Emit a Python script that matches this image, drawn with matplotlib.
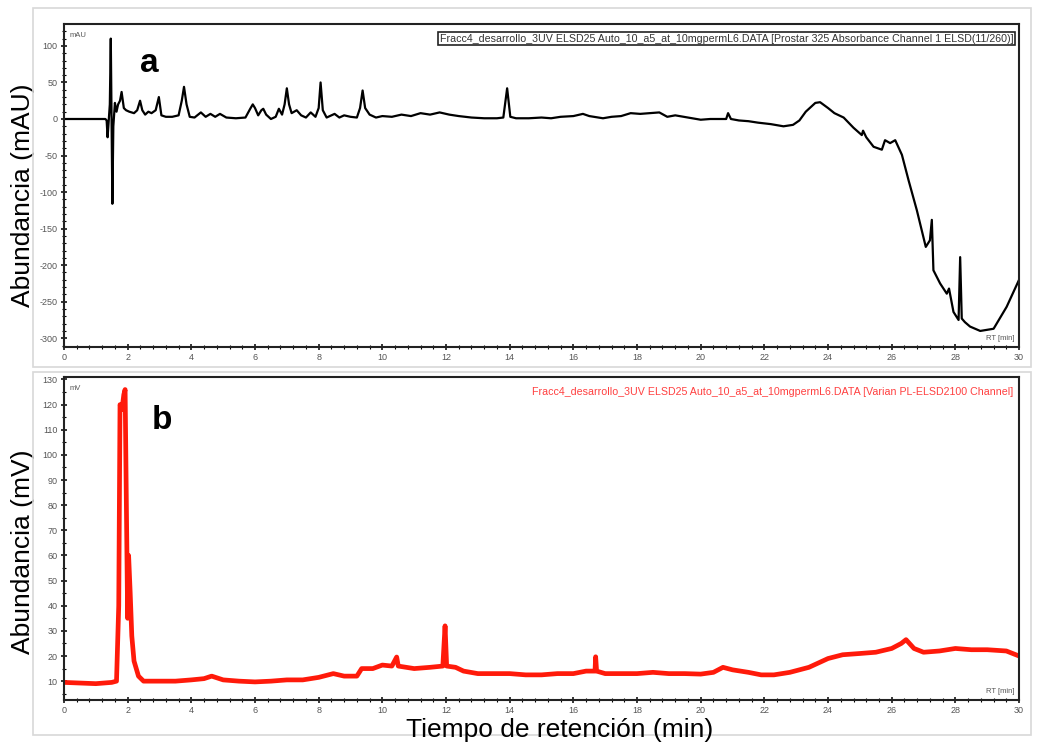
import numpy as np
import matplotlib.pyplot as plt
from matplotlib.patches import Rectangle

plt.rcParams['font.family'] = ['Liberation Sans', 'DejaVu Sans']
plt.rcParams['axes.unicode_minus'] = False

# panel a: UV absorbance (mAU) vs retention time (min)
t_a = [0, 1.30, 1.34, 1.37, 1.40, 1.44, 1.47, 1.50, 1.52, 1.55,
       1.60, 1.65, 1.70, 1.76, 1.81, 1.88, 1.95, 2.05, 2.20, 2.30,
       2.39, 2.46, 2.55, 2.65, 2.75, 2.88, 2.98, 3.06, 3.20, 3.40,
       3.60, 3.70, 3.77, 3.85, 3.95, 4.10, 4.30, 4.45, 4.60, 4.75,
       4.90, 5.10, 5.40, 5.70, 5.85, 5.93, 6.00, 6.10, 6.20, 6.26,
       6.35, 6.50, 6.65, 6.75, 6.85, 6.93, 7.00, 7.07, 7.15, 7.31,
       7.45, 7.60, 7.75, 7.90, 8.00, 8.06, 8.13, 8.25, 8.50, 8.65,
       8.80, 9.00, 9.20, 9.30, 9.38, 9.46, 9.60, 9.80, 10.0, 10.3,
       10.6, 10.9, 11.2, 11.5, 11.8, 12.1, 12.4, 12.8, 13.2, 13.6,
       13.8, 13.92, 14.02, 14.2, 14.6, 15.0, 15.3, 15.6, 16.0, 16.3,
       16.5, 16.93, 17.2, 17.5, 17.8, 18.1, 18.4, 18.7, 18.95, 19.2,
       19.6, 20.0, 20.3, 20.8, 20.86, 20.95, 21.2, 21.5, 21.8, 22.2,
       22.6, 22.9, 23.1, 23.3, 23.6, 23.75, 24.0, 24.2, 24.49, 24.8,
       25.06, 25.1, 25.2, 25.43, 25.69, 25.79, 25.95, 26.11, 26.32, 26.53,
       26.79, 27.07, 27.2, 27.26, 27.31, 27.52, 27.73, 27.8, 27.94, 28.1,
       28.15, 28.2, 28.3, 28.46, 28.78, 29.2, 29.61, 30.0]
mau = [0, 0, -2, -25, -5, 20, 110, -20, -116, -10,
       22, 10, 20, 25, 37, 15, 12, 10, 8, 12,
       25, 12, 6, 10, 8, 12, 30, 5, 3, 3,
       5, 25, 44, 20, 3, 2, 9, 3, 7, 3,
       7, 2, 1, 2, 14, 20, 15, 5, 12, 14,
       6, 0, 3, 14, 6, 20, 42, 20, 8, 12,
       5, 2, 9, 3, 15, 50, 12, 2, 7, 2,
       5, 3, 2, 15, 39, 15, 6, 2, 4, 3,
       6, 4, 8, 6, 9, 6, 4, 2, 1, 1,
       2, 42, 3, 1, 1, 2, 1, 3, 4, 7,
       4, 1, 3, 4, 8, 7, 8, 9, 3, 5,
       2, -1, 0, 0, 8, 0, -2, -3, -5, -7,
       -10, -8, -2, 10, 22, 23, 15, 8, 2, -12,
       -22, -16, -25, -38, -42, -29, -33, -29, -49, -84,
       -125, -175, -166, -138, -207, -225, -239, -232, -264, -275,
       -189, -273, -278, -284, -290, -287, -257, -220]

# panel b: ELSD signal (mV) vs retention time (min)
t_b = [0, 1.0, 1.5, 1.65, 1.72, 1.76, 1.82, 1.88, 1.92, 1.96,
       2.00, 2.03, 2.08, 2.13, 2.20, 2.34, 2.5, 3.0, 3.5, 4.0,
       4.4, 4.64, 5.0, 5.5, 6.0, 6.5, 7.0, 7.5, 8.0, 8.46,
       8.8, 9.2, 9.35, 9.7, 10.0, 10.3, 10.45, 10.5, 11.0, 11.5,
       11.9, 11.97, 12.02, 12.3, 12.55, 13.0, 13.5, 14.0, 14.5, 15.0,
       15.5, 16.0, 16.4, 16.68, 16.7, 16.73, 17.0, 17.5, 18.0, 18.5,
       19.0, 19.5, 20.0, 20.4, 20.7, 21.0, 21.5, 21.9, 22.3, 22.8,
       23.4, 24.0, 24.46, 25.0, 25.5, 26.0, 26.3, 26.45, 26.7, 27.0,
       27.5, 28.0, 28.5, 29.0, 29.6, 30.0]
mv = [9.5, 9, 9.5, 10, 40, 120, 118, 124, 126, 80,
      35, 60, 45, 28, 18, 12, 10, 10, 10, 10.5,
      11, 12, 10.5, 10, 9.7, 10, 10.5, 10.5, 11.5, 13,
      12, 12, 15, 15, 16.4, 16, 19.6, 16, 15, 15.5,
      16, 32, 16, 15.5, 14, 13, 13, 13, 12.5, 12.5,
      13, 13, 14, 14, 19.7, 14, 13, 13, 13, 13.5,
      13, 13, 12.8, 13.5, 15.5, 14.5, 13.5, 12.5, 12.5, 13.5,
      15.5, 19, 20.5, 21, 21.5, 23, 25, 26.5, 23, 21.5,
      22, 23, 22.5, 22.5, 22, 20]

x_ticks = np.arange(0, 31, 2)
a_ticks = np.arange(-300, 101, 50)
b_ticks = np.arange(10, 131, 10)

fig = plt.figure(figsize=(10.37, 7.45), dpi=100)

# light grey frames around the two instrument panels
for y0, h in [(0.507, 0.482), (0.013, 0.488)]:
    fig.patches.append(Rectangle((0.032, y0), 0.962, h, transform=fig.transFigure,
                                 fill=False, edgecolor='#d8d8d8', lw=1.2))

ax1 = fig.add_axes([0.0617, 0.5342, 0.921, 0.4336])
ax2 = fig.add_axes([0.0617, 0.0604, 0.921, 0.4336])

ax1.plot(t_a, mau, color='black', lw=1.6)
ax2.plot(t_b, mv, color='#ff1a0a', lw=3.4, solid_joinstyle='round')

ax1.set_ylim(-312, 130)
ax2.set_ylim(2.5, 131)
ax1.set_yticks(a_ticks)
ax2.set_yticks(b_ticks)
ax1.set_yticks(np.arange(-310, 130, 10), minor=True)
ax2.set_yticks(np.arange(5, 131, 5), minor=True)

for ax in (ax1, ax2):
    ax.set_xlim(0, 30)
    ax.set_xticks(x_ticks)
    ax.set_xticks(np.arange(0, 30.01, 0.4), minor=True)
    ax.tick_params(which='major', direction='inout', length=5, width=1.1,
                   labelsize=6.5, labelcolor='#555555', pad=2)
    ax.tick_params(which='minor', direction='inout', length=3, width=0.8)
    for s in ax.spines.values():
        s.set_linewidth(1.5)
        s.set_color('#222222')
    ax.text(0.995, 0.015, 'RT [min]', transform=ax.transAxes, ha='right',
            va='bottom', fontsize=5.5, color='#555555')

ax1.text(0.006, 0.975, 'mAU', transform=ax1.transAxes, fontsize=5.5,
         color='#555555', va='top')
ax2.text(0.006, 0.975, 'mV', transform=ax2.transAxes, fontsize=5.5,
         color='#555555', va='top')

ax1.text(0.994, 0.955,
         'Fracc4_desarrollo_3UV ELSD25 Auto_10_a5_at_10mgpermL6.DATA '
         '[Prostar 325 Absorbance Channel 1 ELSD(11/260)]',
         transform=ax1.transAxes, ha='right', va='center', fontsize=7.7,
         color='#333333',
         bbox=dict(boxstyle='square,pad=0.15', fc='white', ec='#222222', lw=1.2))
ax2.text(0.994, 0.955,
         'Fracc4_desarrollo_3UV ELSD25 Auto_10_a5_at_10mgpermL6.DATA '
         '[Varian PL-ELSD2100 Channel]',
         transform=ax2.transAxes, ha='right', va='center', fontsize=7.7,
         color='#ff4040')

ax1.text(0.08, 0.85, 'a', transform=ax1.transAxes, fontsize=24,
         fontweight='bold')
ax2.text(0.092, 0.84, 'b', transform=ax2.transAxes, fontsize=24,
         fontweight='bold')

ax1.set_ylabel('Abundancia (mAU)', fontsize=19)
ax2.set_ylabel('Abundancia (mV)', fontsize=19)
ax1.yaxis.set_label_coords(-0.030, 0.47)
ax2.yaxis.set_label_coords(-0.030, 0.46)
fig.text(0.54, 0.02, 'Tiempo de retención (min)', ha='center', va='center',
         fontsize=19)

fig.savefig('out.png', dpi=100)
